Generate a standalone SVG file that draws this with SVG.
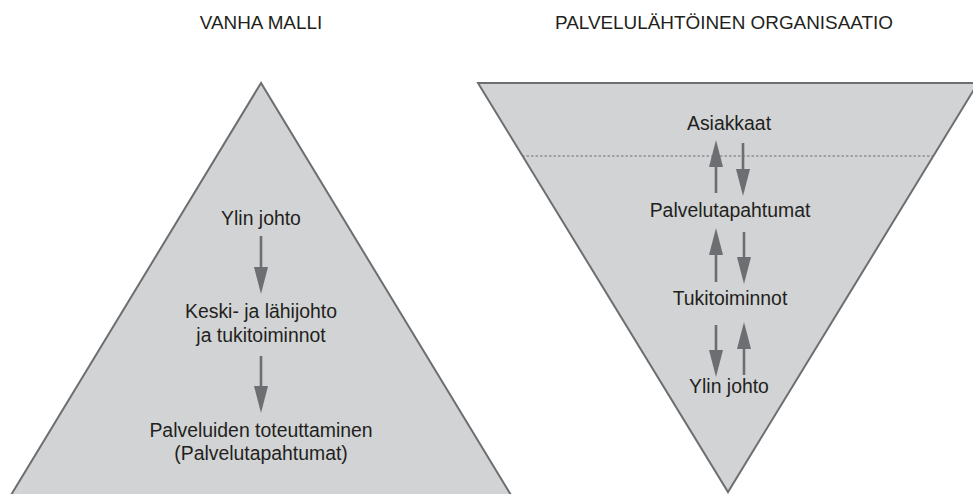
<svg xmlns="http://www.w3.org/2000/svg" width="973" height="494" viewBox="0 0 973 494">
<style>
text{font-family:"Liberation Sans",Arial,sans-serif;fill:#231f20;text-anchor:middle}
.t{font-size:18.9px}
.b{font-size:19.4px}
.shape{fill:#d1d3d4;stroke:#6d6e71;stroke-width:2}
.arr{stroke:#6d6e71;stroke-width:2.6;fill:none;marker-end:url(#ah)}
</style>
<defs>
<marker id="ah" markerUnits="userSpaceOnUse" viewBox="0 0 27 14" markerWidth="27" markerHeight="14" refX="17" refY="7" orient="auto">
<path d="M0,0 L27,7 L0,14 Z" fill="#6d6e71"/>
</marker>
</defs>
<rect width="973" height="494" fill="#ffffff"/>
<g id="titles">
<text class="t" x="261" y="29">VANHA MALLI</text>
<text class="t" x="724" y="29">PALVELULÄHTÖINEN ORGANISAATIO</text>
</g>
<g id="pyramid">
<polygon class="shape" points="261,83 8,500 514,500"/>
</g>
<g id="inverted-pyramid">
<polygon class="shape" points="478,83 978,83 728,492"/>
<line x1="522" y1="156" x2="934" y2="156" stroke="#6d6e71" stroke-width="1" stroke-dasharray="2.5,2"/>
</g>
<g id="left-ylin"><text class="b" x="261" y="225">Ylin johto</text></g>
<g id="left-keski"><text class="b" x="261" y="318">Keski- ja lähijohto</text><text class="b" x="261" y="342">ja tukitoiminnot</text></g>
<g id="left-palvelu"><text class="b" x="261" y="437">Palveluiden toteuttaminen</text><text class="b" x="261" y="460">(Palvelutapahtumat)</text></g>
<g id="right-asiakkaat"><text class="b" x="729" y="130">Asiakkaat</text></g>
<g id="right-palvelutapahtumat"><text class="b" x="730" y="217">Palvelutapahtumat</text></g>
<g id="right-tuki"><text class="b" x="730" y="305">Tukitoiminnot</text></g>
<g id="right-ylin"><text class="b" x="729" y="393">Ylin johto</text></g>
<g id="connectors">
<line class="arr" x1="261" y1="236" x2="261" y2="284"/>
<line class="arr" x1="261" y1="356" x2="261" y2="403"/>
<line class="arr" x1="716" y1="193" x2="716" y2="150"/>
<line class="arr" x1="743" y1="143" x2="743" y2="186"/>
<line class="arr" x1="716" y1="282" x2="716" y2="238"/>
<line class="arr" x1="744" y1="232" x2="744" y2="274"/>
<line class="arr" x1="716" y1="325" x2="716" y2="367"/>
<line class="arr" x1="744" y1="375" x2="744" y2="332"/>
</g>
</svg>
